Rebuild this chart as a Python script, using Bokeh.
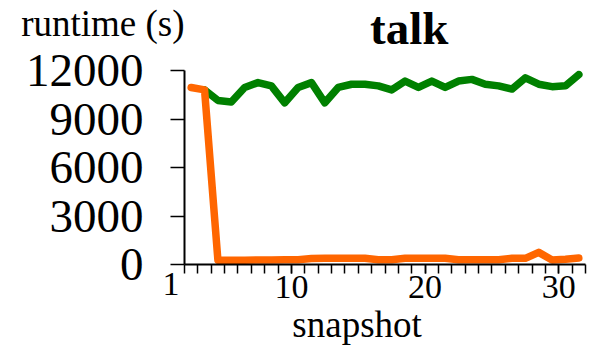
from bokeh.plotting import figure
from bokeh.models import Range1d, FixedTicker, Label, Title
from bokeh.embed import file_html
from bokeh.resources import INLINE

# ---- data ----
orange_snapshots = [2, 3, 4, 5, 6, 7, 8, 9, 10, 11, 12, 13, 14, 15, 16, 17,
                    18, 19, 20, 21, 22, 23, 24, 25, 26, 27, 28, 29, 30, 31]
orange_runtime = [10950, 10800, 260, 270, 270, 280, 280, 290, 300, 370, 380,
                  380, 380, 380, 300, 300, 380, 380, 380, 380, 300, 300, 300,
                  300, 380, 380, 750, 280, 320, 400]

green_snapshots = [3, 4, 5, 6, 7, 8, 9, 10, 11, 12, 13, 14, 15, 16, 17, 18,
                   19, 20, 21, 22, 23, 24, 25, 26, 27, 28, 29, 30, 31]
green_runtime = [10800, 10150, 10050, 10950, 11250, 11050, 10000, 10950,
                 11250, 10000, 10950, 11150, 11150, 11050, 10800, 11350,
                 10950, 11350, 10950, 11350, 11450, 11150, 11050, 10850,
                 11550, 11150, 11000, 11050, 11750]

y_ticks = [0, 3000, 6000, 9000, 12000]
x_minor_ticks = [1.5, 2.5, 3.5, 4.5, 5.5, 6.5, 7.5, 8.5, 9.5, 10.5, 11.5,
                 12.5, 13.5, 14.5, 15.5, 16.5, 17.5, 18.5, 19.5, 20.5, 21.5,
                 22.5, 23.5, 24.5, 25.5, 26.5, 27.5, 28.5, 29.5, 30.5, 31.5]
x_label_ticks = [9.5, 19.5, 29.5]
x_label_texts = ["10", "20", "30"]
first_label_text = "1"

title_text = "talk"
y_title = "runtime (s)"
x_title = "snapshot"

FONT = "Liberation Serif"

p = figure(width=597, height=346, output_backend="svg", toolbar_location=None,
           x_range=Range1d(1.5, 31.5), y_range=Range1d(0, 12000),
           min_border_left=184, min_border_right=12,
           min_border_top=70, min_border_bottom=82)
p.outline_line_color = None
p.xgrid.visible = False
p.ygrid.visible = False
p.background_fill_color = "white"
p.border_fill_color = "white"

# title
p.title.text = title_text
p.title.text_font = FONT
p.title.text_font_size = "47px"
p.title.text_font_style = "bold"
p.title.text_color = "black"
p.title.align = "left"
p.title.offset = 185.5
p.title.vertical_align = "top"
p.title.standoff = -56

# lines
p.line(green_snapshots, green_runtime, line_color="#008000", line_width=7.5,
       line_join="round", line_cap="round")
p.line(orange_snapshots, orange_runtime, line_color="#ff6600", line_width=7.5,
       line_join="round", line_cap="round")

# x axis
xa = p.xaxis[0]
xa.ticker = FixedTicker(ticks=x_label_ticks, minor_ticks=x_minor_ticks)
xa.major_label_overrides = {t: s for t, s in zip(x_label_ticks, x_label_texts)}
xa.major_tick_out = 9
xa.major_tick_in = 0
xa.minor_tick_out = 9
xa.minor_tick_in = 0
xa.major_tick_line_width = 1.5
xa.minor_tick_line_width = 1.5
xa.major_tick_line_color = "black"
xa.minor_tick_line_color = "black"
xa.axis_line_width = 2
xa.axis_line_color = "black"
xa.major_label_text_font = FONT
xa.major_label_text_font_size = "34px"
xa.major_label_text_color = "black"
xa.major_label_standoff = 2

# y axis
ya = p.yaxis[0]
ya.ticker = FixedTicker(ticks=y_ticks, minor_ticks=[])
ya.major_tick_out = 14
ya.major_tick_in = 0
ya.major_tick_line_width = 1.5
ya.major_tick_line_color = "black"
ya.axis_line_width = 2
ya.axis_line_color = "black"
ya.major_label_text_font = FONT
ya.major_label_text_font_size = "47px"
ya.major_label_text_color = "black"
ya.major_label_standoff = 27

# x axis title (placed in the bottom panel so it is not clipped)
p.add_layout(Label(x=14.41, y=-3742, text=x_title, text_font=FONT,
                   text_font_size="37px", text_color="black",
                   text_align="center", text_baseline="alphabetic"), "below")

# first x tick label, left of the frame
p.add_layout(Title(text=first_label_text, text_font=FONT,
                   text_font_size="34px", text_font_style="normal",
                   text_color="black", align="left", offset=-22,
                   vertical_align="top", standoff=-137), "below")

# y axis title, top left
p.add_layout(Label(x=-10.72, y=14938, text=y_title, text_font=FONT,
                   text_font_size="37px", text_color="black",
                   text_align="left", text_baseline="alphabetic"), "above")

open("out.html", "w").write(file_html(p, INLINE))
